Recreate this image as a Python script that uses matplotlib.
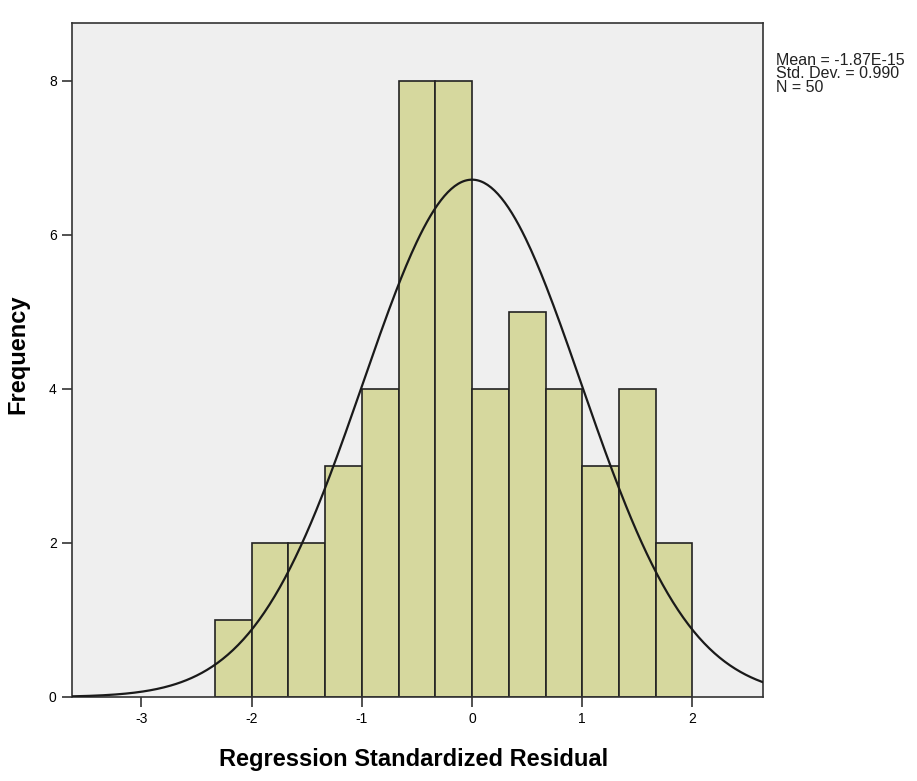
import numpy as np
import matplotlib.pyplot as plt

# histogram of regression standardized residuals
bin_edges = [-2.333, -2.0, -1.667, -1.333, -1.0, -0.667, -0.333,
             0.0, 0.333, 0.667, 1.0, 1.333, 1.667, 2.0]
counts = [1, 2, 2, 3, 4, 8, 8, 4, 5, 4, 3, 4, 2]

mean = -1.87e-15
std_dev = 0.990
n_obs = 50

plt.rcParams['font.family'] = ['Liberation Sans', 'DejaVu Sans']
plt.rcParams['axes.unicode_minus'] = False

fig = plt.figure(figsize=(9.17, 7.81), dpi=100)
ax = fig.add_axes([0.0785, 0.1076, 0.7535, 0.863])
ax.set_facecolor('#efefef')

lefts = np.array(bin_edges[:-1])
widths = np.diff(bin_edges)
ax.bar(lefts, counts, width=widths, align='edge', color='#d6d89e',
       edgecolor='#222222', linewidth=1.2, zorder=2)

# fitted normal curve
bw = widths.mean()
xs = np.linspace(-3.63, 2.64, 400)
ys = n_obs * bw * np.exp(-0.5 * ((xs - mean) / std_dev) ** 2) / (std_dev * np.sqrt(2 * np.pi))
ax.plot(xs, ys, color='#1a1a1a', linewidth=1.6, zorder=3)

ax.set_xlim(-3.63, 2.64)
ax.set_ylim(0, 8.75)
ax.set_xticks([-3, -2, -1, 0, 1, 2])
ax.set_yticks([0, 2, 4, 6, 8])
ax.tick_params(axis='both', labelsize=10, length=7, width=1.2, color='#333333', pad=4)
for s in ax.spines.values():
    s.set_color('#333333')
    s.set_linewidth(1.2)

fig.text(0.451, 0.027, 'Regression Standardized Residual', fontsize=17,
         fontweight='bold', ha='center', va='center')
fig.text(0.02, 0.547, 'Frequency', fontsize=17, fontweight='bold',
         rotation=90, ha='center', va='center')

fig.text(0.846, 0.932, 'Mean = -1.87E-15\nStd. Dev. = 0.990\nN = 50',
         fontsize=11.5, va='top', ha='left', linespacing=0.85, color='#222222')

fig.savefig('out.png', dpi=100)
